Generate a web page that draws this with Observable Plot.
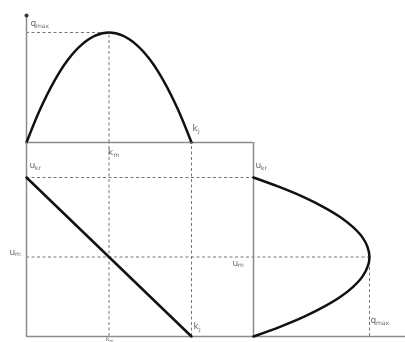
<!DOCTYPE html>
<html><head><meta charset="utf-8">
<script src="https://cdn.jsdelivr.net/npm/d3@7"></script>
<script src="https://cdn.jsdelivr.net/npm/@observablehq/plot@0.6"></script>
<style>
body{margin:0;background:#fff}
#chart{position:relative;width:405px;height:342px;overflow:hidden}
#chart svg{position:absolute;left:0;top:0;background:transparent;will-change:transform}
</style>
</head><body><div id="chart"></div>
<script>
// ---- data (normalised units) ----
const kj = 120, km = 60;          // jam density, optimum density
const qmax = 2400;                // maximum flow
const ukr = 80, um = 40;          // free speed, optimum speed

// flow–density curve (top panel)
const qkDensity = [0, 10, 20, 30, 40, 50, 60, 70, 80, 90, 100, 110, 120];
const qkFlow    = [0, 730, 1330, 1800, 2130, 2330, 2400, 2330, 2130, 1800, 1330, 730, 0];

// speed–density line (bottom-left panel)
const ukDensity = [0, 60, 120];
const ukSpeed   = [80, 40, 0];

// speed–flow curve (bottom-right panel)
const uqSpeed = [80, 75, 70, 65, 60, 55, 50, 45, 40, 35, 30, 25, 20, 15, 10, 5, 0];
const uqFlow  = [0, 560, 1050, 1460, 1800, 2060, 2250, 2360, 2400, 2360, 2250, 2060, 1800, 1460, 1050, 560, 0];

const qkData = qkDensity.map((k, i) => ({k, q: qkFlow[i]}));
const ukData = ukDensity.map((k, i) => ({k, u: ukSpeed[i]}));
const uqData = uqSpeed.map((u, i) => ({u, q: uqFlow[i]}));

// ---- layout (pixels) ----
const W = 405, H = 342;
const P = {left: 26, kj: 191, rightAxis: 253, qmaxRight: 369, right: 405,
           arrowTop: 15, qmaxTop: 32, topBase: 142, ukr: 177, bottom: 336};
const kAt = p => (p - P.left) / (P.kj - P.left) * kj;
const qAt = p => (P.topBase - p) / (P.topBase - P.qmaxTop) * qmax;
const uAt = p => (P.bottom - p) / (P.bottom - P.ukr) * ukr;

const axisStroke = "#8c8c8c", dashStroke = "#777", curveStroke = "#111";
const dash = "3,2.5";
const font = "DejaVu Sans";
const lab = (x, y, main, sub, dx, dy, size = 9) => [
  Plot.text([{x, y}], {x: "x", y: "y", text: () => main, dx, dy, textAnchor: "start",
    fontSize: size, fill: "#666", fontFamily: font}),
  Plot.text([{x, y}], {x: "x", y: "y", text: () => sub, dx: dx + size * 0.6, dy: dy + size * 0.28, textAnchor: "start",
    fontSize: size * 0.67, fill: "#666", fontFamily: font})
];

const root = document.getElementById("chart");
function draw(x, y, marks) {
  const svg = Plot.plot({
    width: W, height: H, margin: 0,
    style: {background: "transparent", overflow: "visible"},
    x: {...x, axis: null}, y: {...y, axis: null},
    marks
  });
  root.append(svg);
}

const kScale = {domain: [0, kj], range: [P.left, P.kj]};
const uScale = {domain: [0, ukr], range: [P.bottom, P.ukr]};

// top: flow vs density
draw(kScale, {domain: [0, qmax], range: [P.topBase, P.qmaxTop]}, [
  Plot.ruleY([qmax], {x1: 0, x2: km, stroke: dashStroke, strokeDasharray: dash}),
  Plot.ruleX([km], {y1: 0, y2: qmax, stroke: dashStroke, strokeDasharray: dash}),
  Plot.ruleY([0], {x1: 0, x2: kAt(P.rightAxis), stroke: axisStroke, strokeWidth: 1.5}),
  Plot.ruleX([0], {y1: 0, y2: qAt(P.arrowTop), stroke: axisStroke, strokeWidth: 1.5}),
  Plot.dot([{k: 0, q: qAt(P.arrowTop)}], {x: "k", y: "q", r: 2, fill: "#333"}),
  Plot.line(qkData, {x: "k", y: "q", curve: "catmull-rom", stroke: curveStroke, strokeWidth: 2.5}),
  ...lab(0, qmax, "q", "max", 4, -9),
  ...lab(kj, 0, "k", "j", 1, -14),
  ...lab(km, 0, "k", "m", -1, 10)
]);

// bottom-left: speed vs density
draw(kScale, uScale, [
  Plot.ruleY([ukr], {x1: 0, x2: kAt(P.rightAxis), stroke: dashStroke, strokeDasharray: dash}),
  Plot.ruleY([um], {x1: 0, x2: kAt(P.qmaxRight), stroke: dashStroke, strokeDasharray: dash}),
  Plot.ruleX([km, kj], {y1: 0, y2: uAt(P.topBase), stroke: dashStroke, strokeDasharray: dash}),
  Plot.ruleX([0], {y1: 0, y2: uAt(P.topBase), stroke: axisStroke, strokeWidth: 1.5}),
  Plot.ruleY([0], {x1: 0, x2: kAt(P.right), stroke: axisStroke, strokeWidth: 1.5}),
  Plot.line(ukData, {x: "k", y: "u", stroke: curveStroke, strokeWidth: 2.5}),
  ...lab(0, ukr, "u", "kr", 3, -12),
  ...lab(0, um, "u", "m", -17, -5),
  ...lab(kj, 0, "k", "j", 2, -10),
  ...lab(km, 0, "k", "m", -3, 2.5, 6)
]);

// bottom-right: speed vs flow
draw({domain: [0, qmax], range: [P.rightAxis, P.qmaxRight]}, uScale, [
  Plot.ruleX([qmax], {y1: 0, y2: um, stroke: dashStroke, strokeDasharray: dash}),
  Plot.ruleX([0], {y1: 0, y2: uAt(P.topBase), stroke: axisStroke, strokeWidth: 1.5}),
  Plot.line(uqData, {x: "q", y: "u", curve: "catmull-rom", stroke: curveStroke, strokeWidth: 2.5}),
  ...lab(0, ukr, "u", "kr", 2, -12),
  ...lab(0, um, "u", "m", -21, 6),
  ...lab(qmax, 0, "q", "max", 1, -16)
]);
</script>
</body></html>
